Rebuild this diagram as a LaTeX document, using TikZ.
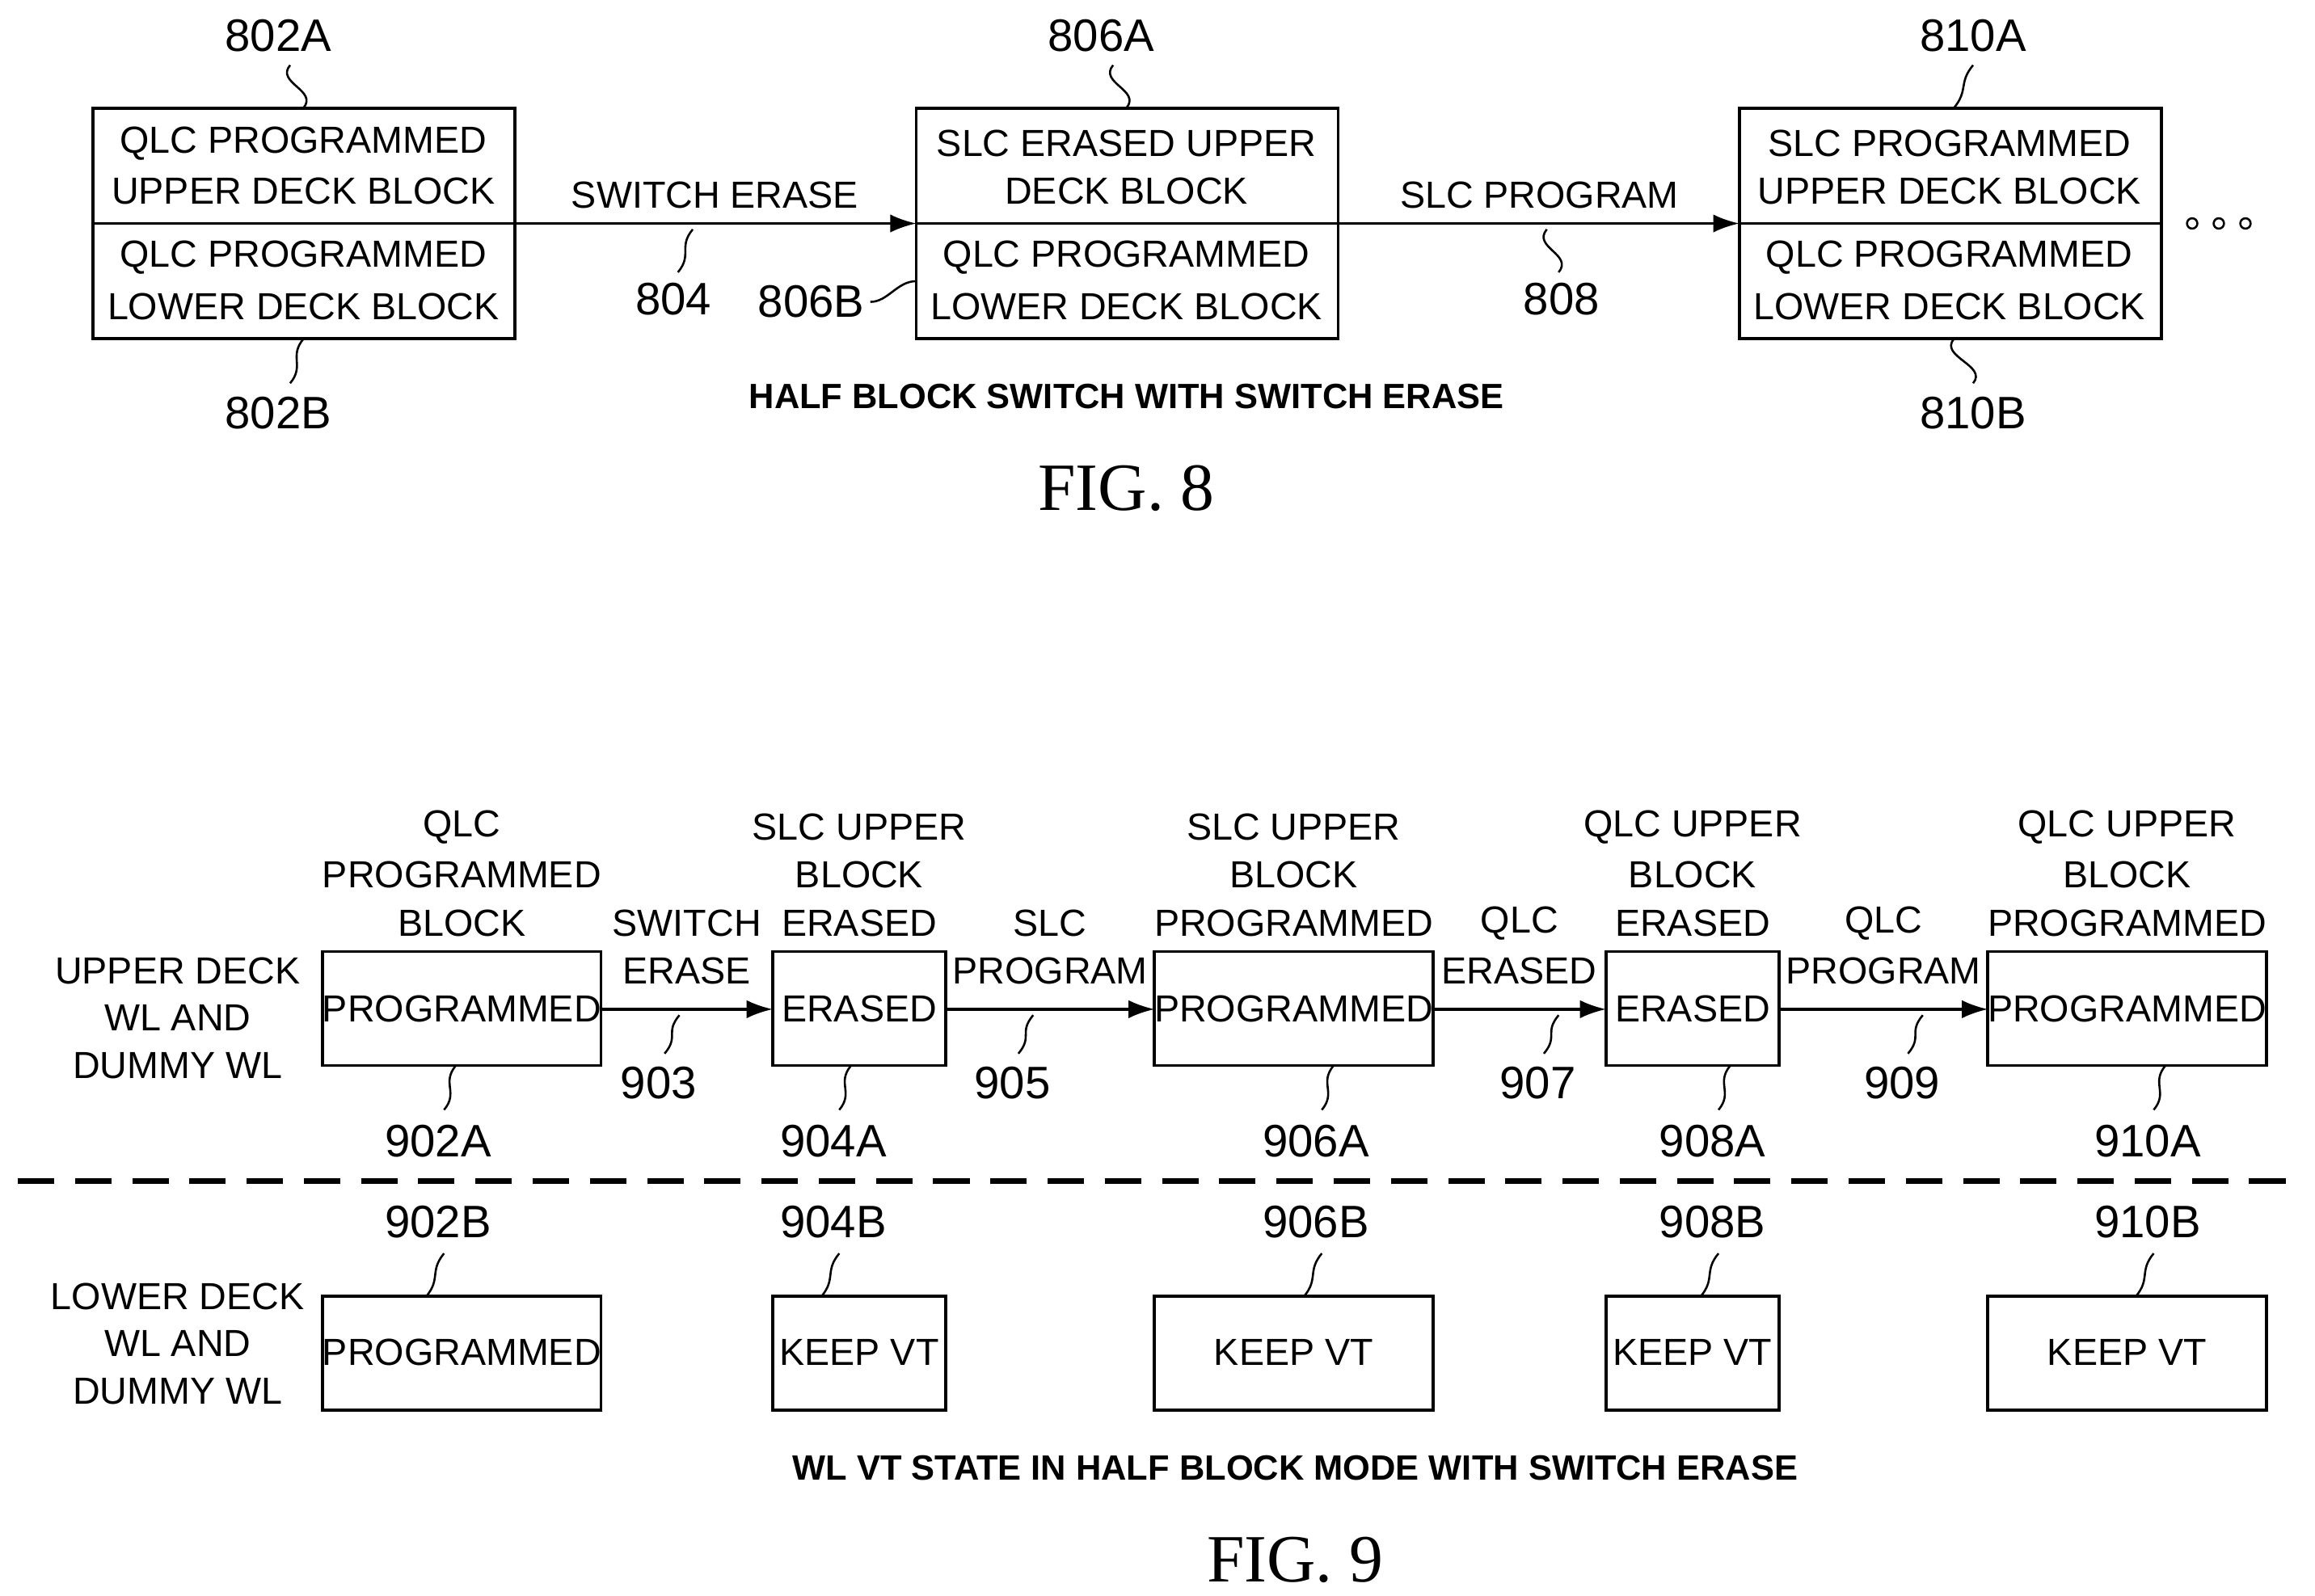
\documentclass[tikz,border=0pt]{standalone}
\usepackage{fontspec}
\setmainfont{Liberation Sans}
\newfontfamily\figfont{Liberation Serif}
\usetikzlibrary{arrows.meta}
\begin{document}
\begin{tikzpicture}[x=0.02cm,y=-0.02cm,
  box/.style={draw,line width=1.2pt,inner sep=0},
  txt/.style={font=\fontsize{14.5}{17}\selectfont,align=center,inner sep=0},
  lbl/.style={font=\fontsize{17.5}{20}\selectfont,inner sep=0},
  ttl/.style={font=\bfseries\fontsize{13.5}{16}\selectfont,inner sep=0},
  fig/.style={font=\figfont\fontsize{26}{30}\selectfont,inner sep=0},
  arr/.style={line width=1pt,-{Latex[length=10pt,width=7pt]}},
  lead/.style={line width=0.8pt}]
\useasboundingbox (0,0) rectangle (1564,1078);
\newcommand{\lead}[4]{\draw[lead] (#1,#2) .. controls (#1-10,#2+12) and (#3+10,#4-12) .. (#3,#4);}
% ---------- FIG 8
\foreach \n/\x/\a/\b/\c/\d in {b1/63/QLC PROGRAMMED/UPPER DECK BLOCK/QLC PROGRAMMED/LOWER DECK BLOCK,
  b2/619/SLC ERASED UPPER/DECK BLOCK/QLC PROGRAMMED/LOWER DECK BLOCK,
  b3/1175/SLC PROGRAMMED/UPPER DECK BLOCK/QLC PROGRAMMED/LOWER DECK BLOCK}{
  \draw[box] (\x,73) rectangle (\x+285,229);
  \draw[line width=1.2pt] (\x,151) -- (\x+285,151);
  \node[txt] (\n u1) at (\x+142,97) {\a};
  \node[txt] (\n u2) at (\x+142,129) {\b};
  \node[txt] (\n l1) at (\x+142,174) {\c};
  \node[txt] (\n l2) at (\x+142,207) {\d};
}
\coordinate (b1e) at (348,151); \coordinate (b2w) at (619,151);
\coordinate (b2e) at (904,151); \coordinate (b3w) at (1175,151);
\draw[arr] (b1e) -- (b2w);
\draw[arr] (b2e) -- (b3w);
\node[txt] (se) at (483,132) {SWITCH ERASE};
\node[txt] (sp) at (1040,132) {SLC PROGRAM};
\node[lbl] (l804) at (455,202) {804}; \lead{468}{155}{458}{184}
\node[lbl] (l808) at (1055,202) {808}; \lead{1045}{155}{1053}{184}
\node[lbl] (l802A) at (188,24) {802A}; \lead{196}{44}{205}{73}
\node[lbl] (l806A) at (744,24) {806A}; \lead{752}{44}{761}{73}
\node[lbl] (l810A) at (1333,24) {810A}; \lead{1333}{44}{1320}{73}
\node[lbl] (l802B) at (188,279) {802B}; \lead{205}{229}{196}{259}
\node[lbl] (l810B) at (1333,279) {810B}; \lead{1320}{229}{1333}{259}
\node[lbl] (l806B) at (548,204) {806B};
\draw[lead] (588,204) .. controls (600,204) and (606,190) .. (619,190);
\foreach \i in {0,1,2} \draw[line width=0.8pt] (1481+\i*18,151) circle (3.5);
\node[ttl] (t8) at (761,268) {HALF BLOCK SWITCH WITH SWITCH ERASE};
\node[fig] (f8) at (761,330) {FIG. 8};
% ---------- FIG 9
\foreach \n/\x/\w/\u/\lo/\ta/\tb/\tc/\la/\lb/\lx in {
  c1/218/188/PROGRAMMED/PROGRAMMED/QLC/PROGRAMMED/BLOCK/902A/902B/296,
  c2/522/117/ERASED/KEEP VT/SLC UPPER/BLOCK/ERASED/904A/904B/563,
  c3/780/188/PROGRAMMED/KEEP VT/SLC UPPER/BLOCK/PROGRAMMED/906A/906B/889,
  c4/1085/117/ERASED/KEEP VT/QLC UPPER/BLOCK/ERASED/908A/908B/1157,
  c5/1343/188/PROGRAMMED/KEEP VT/QLC UPPER/BLOCK/PROGRAMMED/910A/910B/1451}{
  \draw[box] (\x,643) rectangle (\x+\w,720);
  \node[txt] (\n u) at (\x+\w/2,682) {\u};
  \draw[box] (\x,876) rectangle (\x+\w,953);
  \node[txt] (\n l) at (\x+\w/2,914) {\lo};
  \node[txt] (\n t1) at (\x+\w/2,559) {\ta};
  \node[txt] (\n t2) at (\x+\w/2,591) {\tb};
  \node[txt] (\n t3) at (\x+\w/2,624) {\tc};
  \node[lbl] (\n a) at (\lx,771) {\la};
  \node[lbl] (\n b) at (\lx,826) {\lb};
  \lead{\lx+12}{720}{\lx+4}{750}
  \lead{\lx+4}{847}{\lx-8}{876}
}
\foreach \x/\y/\s/\t/\nn/\nx in {406/522/SWITCH/ERASE/903/445, 639/780/SLC/PROGRAM/905/684,
  968/1085/QLC/ERASED/907/1039, 1202/1343/QLC/PROGRAM/909/1285}{
  \coordinate (ae\x) at (\x,682); \coordinate (aw\x) at (\y,682);
  \draw[arr] (ae\x) -- (aw\x);
  \node[txt] at ({(\x+\y)/2},624) {\s};
  \node[txt] at ({(\x+\y)/2},656) {\t};
  \node[lbl] at (\nx,732) {\nn};
  \lead{\nx+14}{686}{\nx+4}{712}
}
\node[txt] at (120,656) {UPPER DECK}; \node[txt] at (120,688) {WL AND}; \node[txt] at (120,720) {DUMMY WL};
\node[txt] at (120,876) {LOWER DECK}; \node[txt] at (120,908) {WL AND}; \node[txt] at (120,940) {DUMMY WL};
\coordinate (dl) at (12,798); \coordinate (dr) at (1556,798);
\draw[line width=2.2pt,dash pattern=on 14pt off 8pt] (dl) -- (dr);
\node[ttl] (t9) at (875,992) {WL VT STATE IN HALF BLOCK MODE WITH SWITCH ERASE};
\node[fig] (f9) at (875,1054) {FIG. 9};
\end{tikzpicture}
\end{document}
